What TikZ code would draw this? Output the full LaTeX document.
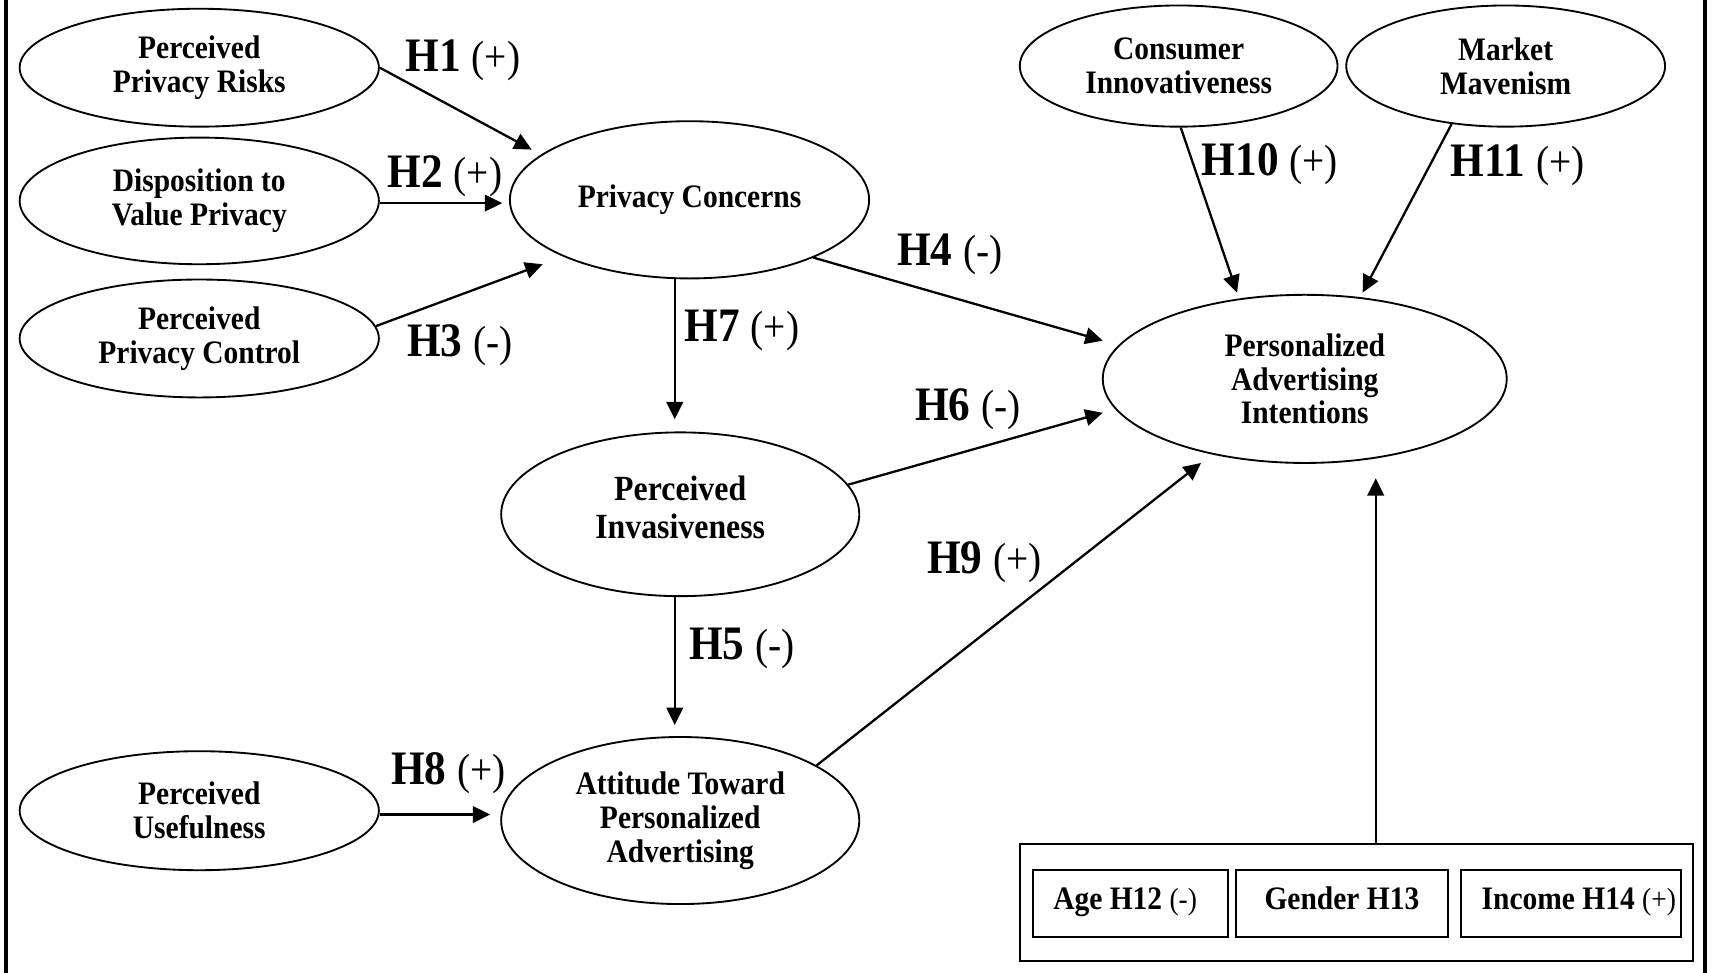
\documentclass[tikz,border=0pt]{standalone}
\usepackage{fontspec}
\setmainfont{Liberation Serif}[FakeStretch=0.9]
\usetikzlibrary{shapes.geometric,arrows.meta}
\newcommand\hyplab[2]{\textbf{#1} {\fontsize{20}{20}\selectfont #2}}
\newcommand\boxlab[2]{\textbf{#1} {\fontsize{14}{14}\selectfont #2}}
\begin{document}
\begin{tikzpicture}[x=0.5pt,y=-0.5pt,
  ell/.style={ellipse, draw, line width=0.85pt, inner sep=0pt, align=center,
    font=\bfseries\fontsize{15}{15.5}\selectfont},
  arr/.style={line width=1.05pt, -{Triangle[length=8pt,width=7.6pt]}},
  lab/.style={inner sep=0pt, font=\fontsize{22}{22}\selectfont},
  mbox/.style={draw, line width=0.9pt, inner sep=0pt, minimum height=30.5pt,
    text height=11pt, text depth=5.5pt, font=\fontsize{15}{15}\selectfont},
  frameline/.style={line width=1.8pt}]
\useasboundingbox (0,0) rectangle (1568,891);
% frame lines
\coordinate (fl1) at (5.5,0); \coordinate (fl2) at (5.5,891);
\coordinate (fr1) at (1561.5,0); \coordinate (fr2) at (1561.5,891);
\draw[frameline] (fl1) -- (fl2);
\draw[frameline] (fr1) -- (fr2);
% ellipses
\node[ell, minimum width=164.5pt, minimum height=54pt] (ppr) at (182.5,62) {Perceived\\Privacy Risks};
\node[ell, minimum width=164.5pt, minimum height=58pt] (dvp) at (182.5,184) {Disposition to\\Value Privacy};
\node[ell, minimum width=164.5pt, minimum height=54pt] (ppc) at (182.5,310) {Perceived\\Privacy Control};
\node[ell, minimum width=164.5pt, minimum height=72pt] (pc) at (631.5,183) {Privacy Concerns};
\node[ell, minimum width=164pt, minimum height=75pt, font=\bfseries\fontsize{16.2}{17}\selectfont] (pi) at (623,471) {Perceived\\Invasiveness\rule[-6.5pt]{0pt}{1pt}};
\node[ell, minimum width=164pt, minimum height=76.5pt] (at) at (623,751.5) {Attitude Toward\\Personalized\\Advertising};
\node[ell, minimum width=164.5pt, minimum height=54.5pt] (pu) at (182.5,742.5) {Perceived\\Usefulness};
\node[ell, minimum width=145.5pt, minimum height=55.5pt] (ci) at (1079.5,60.5) {Consumer\\Innovativeness};
\node[ell, minimum width=146pt, minimum height=55.5pt] (mm) at (1379,60.5) {Market\\Mavenism};
\node[ell, minimum width=185pt, minimum height=77pt] (pai) at (1195,347) {Personalized\\Advertising\\Intentions};
% demographic boxes
\node[draw, line width=0.9pt, minimum width=308.5pt, minimum height=53.5pt, inner sep=0pt] (demo) at (1242.5,826.5) {};
\node[mbox, minimum width=89.5pt] (age) at (1035.5,827.5) {\hspace*{-5pt}\boxlab{Age H12}{(-)}};
\node[mbox, minimum width=97pt] (gender) at (1229,827.5) {\textbf{Gender H13}};
\node[mbox, minimum width=101pt] (income) at (1439,827.5) {\hspace*{7pt}\boxlab{Income H14}{(+)}};
% arrow end points
\coordinate (h1e) at (487,137);
\coordinate (h2e) at (460,186);
\coordinate (h3e) at (497,242);
\coordinate (h4e) at (1010,312);
\coordinate (h7e) at (618,384);
\coordinate (h6e) at (1010,378);
\coordinate (h5e) at (618,664);
\coordinate (h9e) at (1100,424);
\coordinate (h8e) at (449,746);
\coordinate (h10e) at (1133,268);
\coordinate (h11e) at (1248,268);
\coordinate (h12e) at (1260,438);
% connectors
\draw[arr] (ppr.east) -- (h1e);
\draw[arr] (dvp.east |- h2e) -- (h2e);
\draw[arr] (ppc.4) -- (h3e);
\draw[arr] (pc.-25) -- (h4e);
\draw[arr] (pc.south -| h7e) -- (h7e);
\draw[arr] (pi.10.7) -- (h6e);
\draw[arr] (pi.south -| h5e) -- (h5e);
\draw[arr] (at.22.9) -- (h9e);
\draw[arr] (pu.east |- h8e) -- (h8e);
\draw[arr] (ci.-88.5) -- (h10e);
\draw[arr] (mm.-133) -- (h11e);
\draw[arr] (demo.north -| h12e) -- (h12e);
% labels
\node[lab] (l1) at (424,55) {\hyplab{H1}{(+)}};
\node[lab] (l2) at (407.5,161) {\hyplab{H2}{(+)}};
\node[lab] (l3) at (421,316) {\hyplab{H3}{(-)}};
\node[lab] (l4) at (870,233) {\hyplab{H4}{(-)}};
\node[lab] (l7) at (679.5,303) {\hyplab{H7}{(+)}};
\node[lab] (l6) at (886.5,375) {\hyplab{H6}{(-)}};
\node[lab] (l9) at (901.5,515) {\hyplab{H9}{(+)}};
\node[lab] (l5) at (679.5,594) {\hyplab{H5}{(-)}};
\node[lab] (l8) at (410.5,708) {\hyplab{H8}{(+)}};
\node[lab] (l10) at (1163,150) {\hyplab{H10}{(+)}};
\node[lab] (l11) at (1390,151) {\hyplab{H11}{(+)}};
\end{tikzpicture}
\end{document}
